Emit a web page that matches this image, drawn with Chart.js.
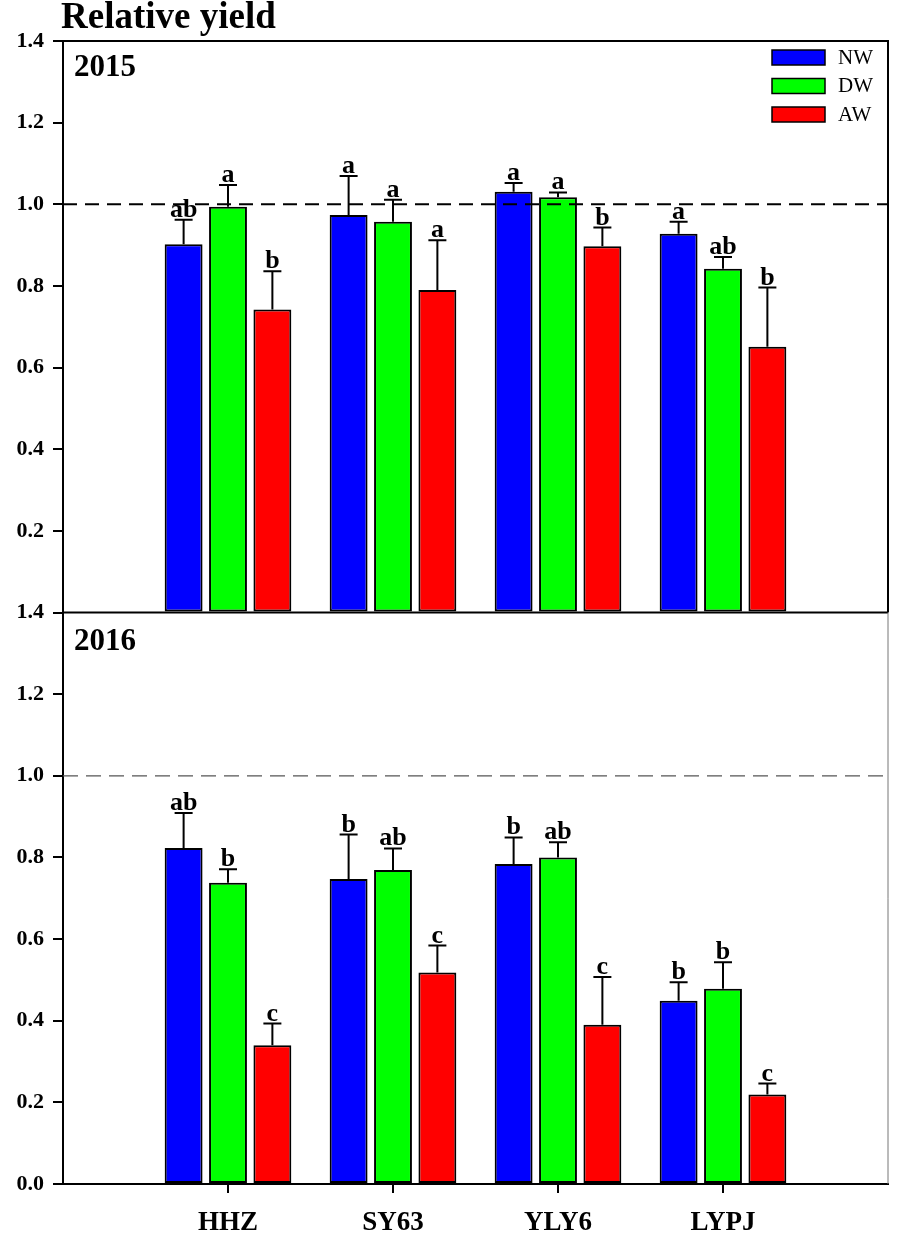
<!DOCTYPE html>
<html>
<head>
<meta charset="utf-8">
<script src="https://cdn.jsdelivr.net/npm/chart.js@4.4.1/dist/chart.umd.min.js"></script>
<style>
  html, body { margin: 0; padding: 0; background: #fff; }
  #wrap { width: 898px; height: 1242px; }
</style>
</head>
<body>
<div id="wrap"><canvas id="myChart" width="898" height="1242"></canvas></div>
<script>
// data
const cultivars = ['HHZ', 'SY63', 'YLY6', 'LYPJ'];
const treatments = ['NW', 'DW', 'AW'];
const colors = ['#0000ff', '#00ff00', '#ff0000'];
const years = ['2015', '2016'];
const yTicks = [0, 0.2, 0.4, 0.6, 0.8, 1.0, 1.2, 1.4];

const yield2015NW = [0.902, 0.974, 1.031, 0.928];
const yield2015DW = [0.994, 0.957, 1.017, 0.842];
const yield2015AW = [0.742, 0.790, 0.897, 0.651];
const err2015NW = [0.060, 0.095, 0.021, 0.029];
const err2015DW = [0.053, 0.054, 0.012, 0.029];
const err2015AW = [0.094, 0.122, 0.046, 0.145];
const letters2015NW = ['ab', 'a', 'a', 'a'];
const letters2015DW = ['a', 'a', 'a', 'ab'];
const letters2015AW = ['b', 'a', 'b', 'b'];

const yield2016NW = [0.823, 0.747, 0.784, 0.449];
const yield2016DW = [0.738, 0.769, 0.800, 0.478];
const yield2016AW = [0.340, 0.518, 0.390, 0.219];
const err2016NW = [0.086, 0.109, 0.065, 0.045];
const err2016DW = [0.033, 0.053, 0.037, 0.065];
const err2016AW = [0.053, 0.066, 0.117, 0.027];
const letters2016NW = ['ab', 'b', 'b', 'b'];
const letters2016DW = ['b', 'ab', 'ab', 'b'];
const letters2016AW = ['c', 'c', 'c', 'c'];

const SERIF = "'Liberation Serif', 'Times New Roman', serif";
const ctx = document.getElementById('myChart');

// empty slots at both ends so the groups sit at 1..4 on a 0..5 axis
const labels = [''].concat(cultivars, ['']);
const pad = arr => [null].concat(arr, [null]);

const table = {
    '2015': {
        values: [yield2015NW, yield2015DW, yield2015AW],
        errs: [err2015NW, err2015DW, err2015AW],
        letters: [letters2015NW, letters2015DW, letters2015AW]
    },
    '2016': {
        values: [yield2016NW, yield2016DW, yield2016AW],
        errs: [err2016NW, err2016DW, err2016AW],
        letters: [letters2016NW, letters2016DW, letters2016AW]
    }
};

const datasets = [];
years.forEach(year => {
    treatments.forEach((t, i) => {
        datasets.push({
            label: t,
            data: pad(table[year].values[i]),
            errs: pad(table[year].errs[i]),
            letters: pad(table[year].letters[i]),
            backgroundColor: colors[i],
            borderColor: '#000',
            borderWidth: 2,
            borderSkipped: false,
            stack: t,
            yAxisID: 'y' + year,
            categoryPercentage: 0.807,
            barPercentage: 0.854
        });
    });
});

function yAxis(year, weight) {
    return {
        type: 'linear',
        position: 'left',
        stack: 'panels',
        stackWeight: 1,
        weight: weight,
        stacked: false,
        min: 0,
        max: 1.4,
        afterBuildTicks: scale => {
            scale.ticks = yTicks.map(v => ({ value: v }));
        },
        afterFit: scale => { scale.width = 63; },
        ticks: {
            color: '#000',
            padding: 9,
            font: { family: SERIF, weight: 'bold', size: 22 },
            callback: v => (year === '2015' && v === 0) ? '' : v.toFixed(1)
        },
        grid: { drawOnChartArea: false, tickLength: 10, color: '#000', lineWidth: 2 },
        border: { color: '#000', width: 2 }
    };
}

const panelPlugin = {
    id: 'panels',
    afterDatasetsDraw(chart) {
        const c = chart.ctx;
        const area = chart.chartArea;
        const top = chart.scales.y2015;
        const bottom = chart.scales.y2016;

        // reference lines at 1.0
        c.save();
        c.strokeStyle = '#000';
        c.lineWidth = 2;
        c.setLineDash([14, 8]);
        let y = top.getPixelForValue(1.0);
        c.beginPath(); c.moveTo(area.left, y); c.lineTo(area.right, y); c.stroke();
        c.strokeStyle = '#555';
        c.lineWidth = 1.2;
        c.setLineDash([15, 8]);
        y = bottom.getPixelForValue(1.0);
        c.beginPath(); c.moveTo(area.left, y); c.lineTo(area.right, y); c.stroke();
        c.restore();

        // error bars and letters
        chart.data.datasets.forEach((ds, di) => {
            const meta = chart.getDatasetMeta(di);
            const scale = chart.scales[ds.yAxisID];
            meta.data.forEach((bar, i) => {
                if (ds.data[i] == null) return;
                const yTop = scale.getPixelForValue(ds.data[i] + ds.errs[i]);
                c.save();
                c.strokeStyle = '#000';
                c.lineWidth = 2;
                c.beginPath();
                c.moveTo(bar.x, bar.y);
                c.lineTo(bar.x, yTop);
                c.moveTo(bar.x - 9, yTop);
                c.lineTo(bar.x + 9, yTop);
                c.stroke();
                c.fillStyle = '#000';
                c.font = 'bold 26px ' + SERIF;
                c.textAlign = 'center';
                c.textBaseline = 'alphabetic';
                c.fillText(ds.letters[i], bar.x, yTop - 3);
                c.restore();
            });
        });

        // frame of the upper panel, thin edge of the lower one
        c.save();
        c.strokeStyle = '#000';
        c.lineWidth = 2;
        c.beginPath();
        c.moveTo(area.left, top.top); c.lineTo(area.right, top.top);
        c.lineTo(area.right, top.bottom);
        c.moveTo(area.left, top.bottom); c.lineTo(area.right, top.bottom);
        c.stroke();
        c.strokeStyle = '#777';
        c.lineWidth = 1;
        c.beginPath();
        c.moveTo(area.right, bottom.top); c.lineTo(area.right, bottom.bottom);
        c.stroke();
        c.restore();

        // titles
        c.save();
        c.fillStyle = '#000';
        c.textAlign = 'left';
        c.textBaseline = 'alphabetic';
        c.font = 'bold 37px ' + SERIF;
        c.fillText('Relative yield', 61, 28);
        c.font = 'bold 31px ' + SERIF;
        c.fillText(years[0], 74, top.top + 35);
        c.fillText(years[1], 74, bottom.top + 37);

        // legend
        treatments.forEach((t, i) => {
            const ly = 50 + i * 28.5;
            c.fillStyle = colors[i];
            c.fillRect(772, ly, 53, 15);
            c.strokeStyle = '#000';
            c.lineWidth = 1.5;
            c.strokeRect(772, ly, 53, 15);
            c.fillStyle = '#000';
            c.font = '21px ' + SERIF;
            c.textBaseline = 'middle';
            c.fillText(t, 838, ly + 8);
        });
        c.restore();
    }
};

const chart = new Chart(ctx, {
    type: 'bar',
    data: { labels: labels, datasets: datasets },
    plugins: [panelPlugin],
    options: {
        responsive: false,
        animation: false,
        devicePixelRatio: 1,
        layout: { padding: { top: 41, right: 10, left: 0, bottom: 0 } },
        plugins: {
            legend: { display: false },
            tooltip: { enabled: false }
        },
        scales: {
            x: {
                type: 'category',
                offset: false,
                afterFit: scale => { scale.height = 58; },
                ticks: {
                    color: '#000',
                    padding: 8,
                    autoSkip: false,
                    maxRotation: 0,
                    font: { family: SERIF, weight: 'bold', size: 27, lineHeight: 1.6 }
                },
                grid: {
                    offset: false,
                    drawOnChartArea: false,
                    tickLength: 9,
                    lineWidth: 2,
                    color: c => labels[c.index] ? '#000' : 'rgba(0,0,0,0)'
                },
                border: { color: '#000', width: 2 }
            },
            y2015: yAxis('2015', 2),
            y2016: yAxis('2016', 1)
        }
    }
});
</script>
</body>
</html>
